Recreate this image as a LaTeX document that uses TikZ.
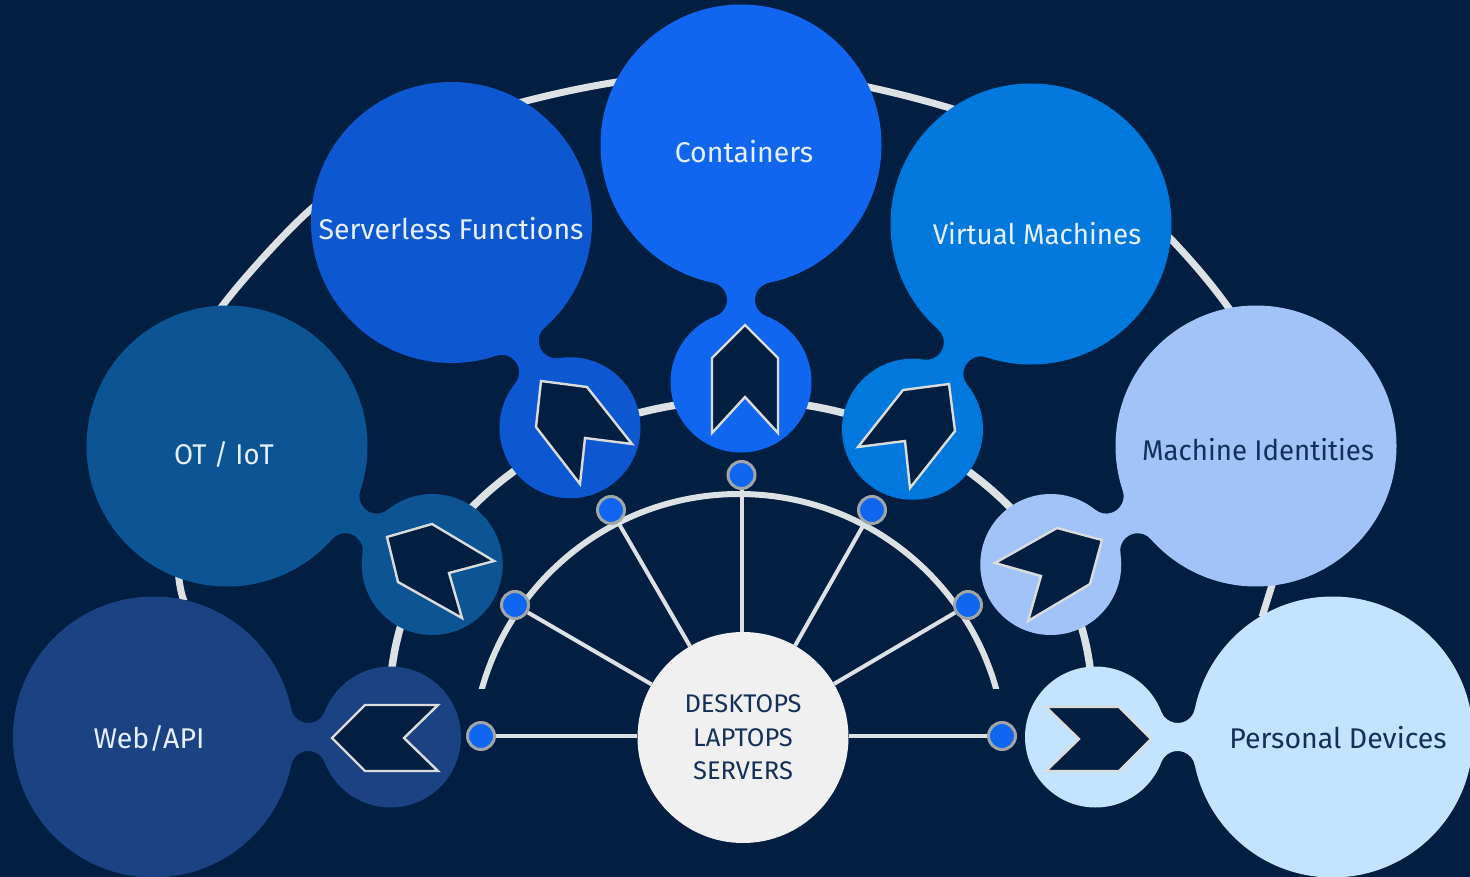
\documentclass[tikz,border=0pt]{standalone}
\usepackage{fontspec}
\setmainfont{Fira Sans}
\definecolor{bgc}{HTML}{021E40}
\definecolor{ringc}{HTML}{DCE2E4}
\definecolor{dotc}{HTML}{1166F0}
\definecolor{dotb}{HTML}{A0A6A8}
\definecolor{arrowb}{HTML}{DADCDC}
\definecolor{cweb}{HTML}{1B4283}
\definecolor{cot}{HTML}{0C5494}
\definecolor{csrv}{HTML}{0D58D0}
\definecolor{ccon}{HTML}{1166F0}
\definecolor{cvm}{HTML}{0078DC}
\definecolor{cmach}{HTML}{A2C3F8}
\definecolor{cpers}{HTML}{C4E3FF}
\definecolor{lightt}{HTML}{E6F0FF}
\definecolor{darkt}{HTML}{14305A}
\definecolor{hubfill}{HTML}{F0F0F0}
\tikzset{
  bigc/.style={circle,minimum size=281pt,inner sep=0pt,draw=none},
  smallc/.style={circle,minimum size=141pt,inner sep=0pt,draw=none},
  hubc/.style={circle,minimum size=211pt,inner sep=0pt,fill=hubfill,draw=none,align=center,text=darkt,font=\fontsize{25.5}{33.5}\selectfont},
  dotn/.style={circle,minimum size=27pt,inner sep=0pt,fill=dotc,draw=dotb,line width=3pt},
  spoke/.style={draw=ringc,line width=4pt},
  ring/.style={draw=ringc,line cap=butt},
  arrowp/.style={fill=bgc,draw=arrowb,line width=2.4pt,line join=miter,miter limit=10},
  lab/.style={inner sep=0pt,font=\fontsize{28.5}{33}\selectfont},
}
\newcommand{\blob}[5]{%
  \node[bigc,fill=#5] (#1) at (#2,#3) {};
  \node[smallc,fill=#5] (#1-s) at ([shift={(#4:237)}]#2,#3) {};
  \fill[#5,shift={(#2,#3)},rotate=#4]
    (137.68,28.01) arc[start angle=191.5,end angle=339.03,radius=17.5pt]
    -- (171.17,-25.23) arc[start angle=20.97,end angle=168.5,radius=17.5pt] -- cycle;
}
\begin{document}
\begin{tikzpicture}[x=1pt,y=1pt,yscale=-1]
\useasboundingbox (0,0) rectangle (1470,877);
\clip (0,0) rectangle (1470,877);
\fill[bgc] (0,0) rectangle (1470,877);
% outer ring
\draw[ring,line width=7pt] (184,601)
  .. controls (165,555) and (186,350) .. (223,305)
  .. controls (241,281) and (285,232) .. (310,210)
  .. controls (370,158) and (455,118) .. (522,102)
  .. controls (553,94) and (585,87) .. (617,82)
  .. controls (675,72) and (810,72) .. (868,87)
  .. controls (896,93) and (923,100) .. (950,108)
  .. controls (1030,133) and (1140,208) .. (1170,238)
  .. controls (1190,259) and (1210,282) .. (1228,307)
  .. controls (1270,365) and (1290,530) .. (1272,585)
  -- (1262,617);
% middle ring
\draw[ring,line width=7.5pt] (390,700) arc[start angle=180,end angle=360,x radius=351pt,y radius=300pt];
% inner ring
\begin{scope}
\clip (400,480) rectangle (1080,688.5);
\draw[ring,line width=6pt] (472,761) arc[start angle=180,end angle=360,radius=267pt];
\end{scope}
% blobs
\blob{web}{153.5}{737}{0}{cweb}
\blob{ot}{227}{446}{30}{cot}
\blob{srv}{451.5}{222.5}{60}{csrv}
\blob{con}{741}{145}{90}{ccon}
\blob{vm}{1031}{224}{120}{cvm}
\blob{mach}{1256}{446}{150}{cmach}
\blob{pers}{1332.5}{737}{180}{cpers}
% arrows
\draw[arrowp] (332,738) -- (365,705) -- (438,705) -- (404,738) -- (438,771) -- (365,771) -- cycle;
\draw[arrowp] (387,537) -- (432,524) -- (494,561) -- (449,573) -- (462,618) -- (398,582) -- cycle;
\draw[arrowp] (541,381) -- (587,387) -- (632,444) -- (585,438) -- (580,484) -- (536,427) -- cycle;
\draw[arrowp] (745,325) -- (778,358) -- (778,433) -- (745,397) -- (712,433) -- (712,358) -- cycle;
\draw[arrowp] (858,447) -- (903,390) -- (949,384) -- (955,431) -- (910,488) -- (905,441) -- cycle;
\draw[arrowp] (995,563) -- (1057,528) -- (1102,540) -- (1090,584) -- (1028,621) -- (1041,576) -- cycle;
\draw[arrowp] (1046,707) -- (1119,707) -- (1151,739) -- (1119,771) -- (1046,771) -- (1079,739) -- cycle;
% hub and dots
\node[hubc] (hub) at (743,737.5) {DESKTOPS\\LAPTOPS\\SERVERS};
\node[dotn] (d1) at (481,736) {};
\node[dotn] (d2) at (515,605) {};
\node[dotn] (d3) at (611,510) {};
\node[dotn] (d4) at (741.5,475) {};
\node[dotn] (d5) at (872,510) {};
\node[dotn] (d6) at (968,605) {};
\node[dotn] (d7) at (1002,736) {};
\foreach \d in {d2,d3,d5,d6} \draw[spoke] (hub) -- (\d);
\draw[spoke] (d4) -- (d4 |- hub.north);
\draw[spoke] (d1) -- (d1 -| hub.west);
\draw[spoke] (d7) -- (d7 -| hub.east);
% labels
\node[lab,text=lightt] (t1) at (149,738) {Web/API};
\node[lab,text=lightt] (t2) at (224,454) {\scalebox{0.965}[1]{OT / IoT}};
\node[lab,text=lightt] (t3) at (451,229) {Serverless Functions};
\node[lab,text=lightt] (t4) at (744,152) {Containers};
\node[lab,text=lightt] (t5) at (1037,234) {\scalebox{0.972}[1]{Virtual Machines}};
\node[lab,text=darkt] (t6) at (1258,450) {\scalebox{0.97}[1]{Machine Identities}};
\node[lab,text=darkt] (t7) at (1338,738) {Personal Devices};
\end{tikzpicture}
\end{document}
